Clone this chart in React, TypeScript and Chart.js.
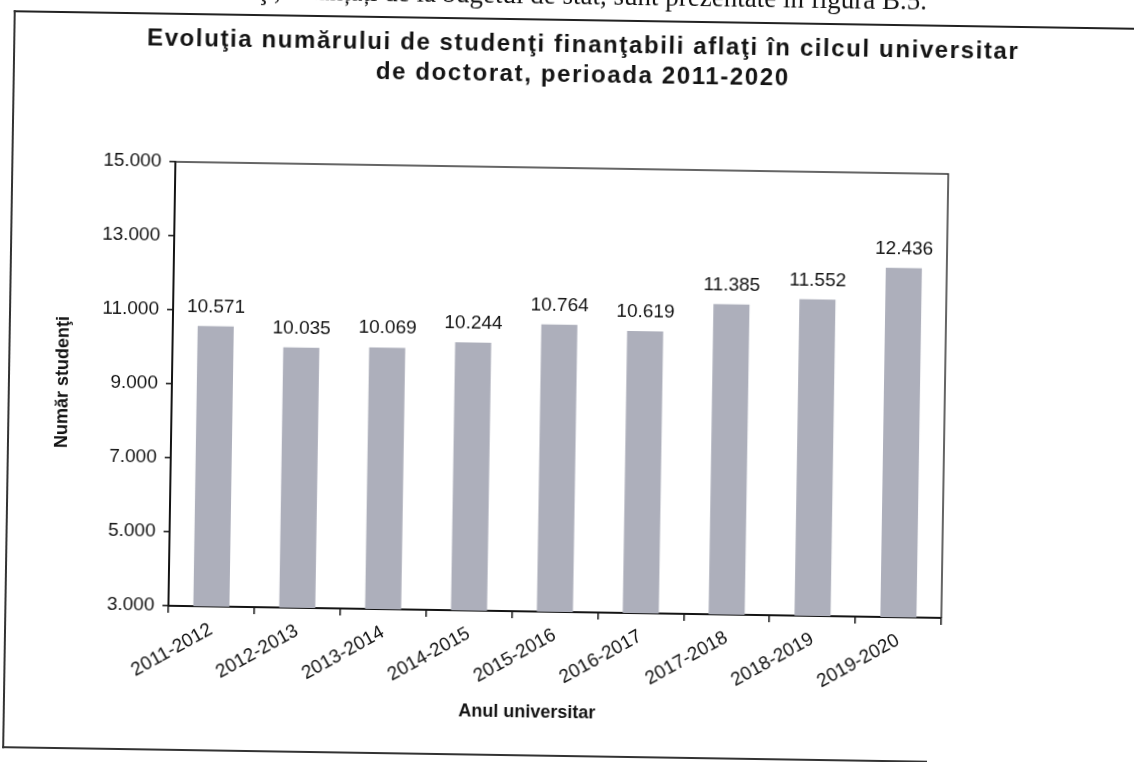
import React, { useEffect, useRef } from "react";
import { Chart, registerables } from "chart.js";

Chart.register(...registerables);

// ---- data ----
const categories = [
  "2011-2012",
  "2012-2013",
  "2013-2014",
  "2014-2015",
  "2015-2016",
  "2016-2017",
  "2017-2018",
  "2018-2019",
  "2019-2020",
];
const students = [10571, 10035, 10069, 10244, 10764, 10619, 11385, 11552, 12436];
const yMin = 3000;
const yMax = 15000;
const yStep = 2000;
const titleLines = [
  "Evoluţia numărului de studenţi finanţabili aflaţi în cilcul universitar",
  "de doctorat, perioada 2011-2020",
];
const yTitle = "Număr studenţi";
const xTitle = "Anul universitar";
const topText = "ţi, finanțați de la bugetul de stat, sunt prezentate în figura B.5.";

const SANS = "'Liberation Sans', Arial, sans-serif";
const INK = "#141414";

const fmt = (v: number) =>
  Math.round(v).toString().replace(/\B(?=(\d{3})+(?!\d))/g, ".");

const framePlugin = {
  id: "plotFrame",
  afterDraw(chart: any) {
    const { ctx, chartArea: a } = chart;
    ctx.save();
    ctx.strokeStyle = "#333";
    ctx.lineWidth = 1.5;
    ctx.beginPath();
    ctx.moveTo(a.left, a.top);
    ctx.lineTo(a.right, a.top);
    ctx.lineTo(a.right, a.bottom);
    ctx.stroke();
    ctx.restore();
  },
};

const valueLabelPlugin = {
  id: "valueLabels",
  afterDatasetsDraw(chart: any) {
    const { ctx } = chart;
    const meta = chart.getDatasetMeta(0);
    ctx.save();
    ctx.font = `19px ${SANS}`;
    ctx.fillStyle = INK;
    ctx.textAlign = "center";
    ctx.textBaseline = "alphabetic";
    meta.data.forEach((bar: any, i: number) => {
      ctx.fillText(fmt(students[i]), bar.x, bar.y - 14);
    });
    ctx.restore();
  },
};

export default function App() {
  const canvasRef = useRef<HTMLCanvasElement | null>(null);

  useEffect(() => {
    if (!canvasRef.current) return;
    const chart = new Chart(canvasRef.current, {
      type: "bar",
      data: {
        labels: categories,
        datasets: [
          {
            data: students,
            backgroundColor: "#adafbb",
            borderWidth: 0,
            barPercentage: 0.42,
            categoryPercentage: 1,
          },
        ],
      },
      options: {
        responsive: false,
        animation: false,
        layout: { padding: { left: 0, top: 168, right: 189, bottom: 0 } },
        plugins: {
          legend: { display: false },
          tooltip: { enabled: false },
          title: { display: false },
        },
        scales: {
          x: {
            grid: {
              display: true,
              drawOnChartArea: false,
              drawTicks: true,
              tickLength: 7,
              color: INK,
              lineWidth: 1.5,
              offset: true,
            },
            border: { display: true, color: INK, width: 2 },
            ticks: {
              font: { family: SANS, size: 19 },
              color: INK,
              minRotation: 30,
              maxRotation: 30,
              padding: 5,
              autoSkip: false,
            },
            afterFit: (s: any) => {
              s.height = 150;
            },
          },
          y: {
            min: yMin,
            max: yMax,
            ticks: {
              stepSize: yStep,
              callback: (v: any) => fmt(Number(v)),
              font: { family: SANS, size: 19 },
              color: INK,
              padding: 8,
            },
            grid: {
              drawOnChartArea: false,
              drawTicks: true,
              tickLength: 6,
              color: INK,
              lineWidth: 1.5,
            },
            border: { display: true, color: INK, width: 2 },
            title: {
              display: true,
              text: yTitle,
              font: { family: SANS, size: 18, weight: "bold" },
              color: INK,
              padding: { top: 52, bottom: 0 },
            },
            afterFit: (s: any) => {
              s.width = 172;
            },
          },
        },
      },
      plugins: [framePlugin, valueLabelPlugin],
    } as any);
    return () => chart.destroy();
  }, []);

  return (
    <div
      style={{
        position: "fixed",
        left: 0,
        top: 0,
        width: 1134,
        height: 762,
        background: "#fff",
        transform: "rotate(0.9deg)",
        transformOrigin: "567px 381px",
      }}
    >
      <div
        style={{
          position: "absolute",
          right: 213,
          top: -18,
          whiteSpace: "nowrap",
          fontFamily: "'Liberation Serif', 'Times New Roman', serif",
          fontSize: 27,
          lineHeight: "27px",
          color: INK,
        }}
      >
        {topText}
      </div>
      <div style={{ position: "absolute", left: 8, top: 19, width: 1200, height: 2, background: "#222" }} />
      <div style={{ position: "absolute", left: 8, top: 19, width: 1.5, height: 738, background: "#333" }} />
      <div style={{ position: "absolute", left: 8, top: 755, width: 925, height: 2, background: "#333" }} />
      <canvas
        ref={canvasRef}
        width={1134}
        height={762}
        style={{ position: "absolute", left: 0, top: 0, display: "block" }}
      />
      <div
        style={{
          position: "absolute",
          left: 78,
          width: 1000,
          top: 29,
          textAlign: "center",
          fontFamily: SANS,
          fontWeight: "bold",
          fontSize: 24,
          lineHeight: "30px",
          letterSpacing: "1.6px",
          whiteSpace: "nowrap",
          color: INK,
        }}
      >
        <div>{titleLines[0]}</div>
        <div>{titleLines[1]}</div>
      </div>
      <div
        style={{
          position: "absolute",
          left: 332,
          width: 400,
          top: 700,
          textAlign: "center",
          fontFamily: SANS,
          fontWeight: "bold",
          fontSize: 18,
          lineHeight: "24px",
          color: INK,
        }}
      >
        {xTitle}
      </div>
    </div>
  );
}
